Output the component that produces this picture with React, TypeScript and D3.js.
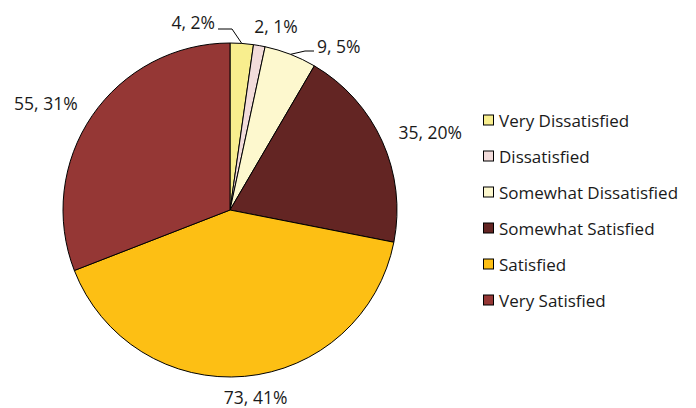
import React from "react";
import * as d3 from "d3";

const categories = [
  "Very Dissatisfied",
  "Dissatisfied",
  "Somewhat Dissatisfied",
  "Somewhat Satisfied",
  "Satisfied",
  "Very Satisfied",
];
const values = [4, 2, 9, 35, 73, 55];
const percentLabels = ["2%", "1%", "5%", "20%", "41%", "31%"];
const colors = ["#F8EE8E", "#F2DCDB", "#FDF8CE", "#632523", "#FDBF14", "#953735"];

const W = 696;
const H = 408;
const cx = 230;
const cy = 210;
const R = 167;
const FONT = "'Open Sans', sans-serif";

export default function App() {
  const pie = d3.pie<number>().sort(null).value((d) => d);
  const arcs = pie(values);
  const arcGen = d3.arc<d3.PieArcDatum<number>>().innerRadius(0).outerRadius(R);
  const mid = (a: d3.PieArcDatum<number>) => (a.startAngle + a.endAngle) / 2;
  const polar = (ang: number, r: number) => [cx + r * Math.sin(ang), cy - r * Math.cos(ang)];

  const labels = arcs.map((a, i) => {
    const text = `${values[i]}, ${percentLabels[i]}`;
    const m = mid(a);
    const edge = polar(m, R);
    if (i === 0) {
      return { text, x: 215, y: 22, anchor: "end", leader: [[218, 29], [232, 29], edge] };
    }
    if (i === 1) {
      return { text, x: 276, y: 26, anchor: "middle", leader: null };
    }
    if (i === 2) {
      return { text, x: 317, y: 46, anchor: "start", leader: [edge, [305, 51], [314, 51]] };
    }
    const [lx] = polar(m, R + 20);
    const anchor = Math.abs(lx - cx) < 30 ? "middle" : lx > cx ? "start" : "end";
    const [px, py] = anchor === "middle" ? polar(m, R + 22) : polar(m, R + 20);
    return {
      text,
      x: px + (anchor === "middle" ? 9 : anchor === "start" ? -2 : 2),
      y: py - 1,
      anchor,
      leader: null,
    };
  });

  return (
    <svg width={W} height={H} style={{ position: "absolute", left: 0, top: 0 }}>
      <rect width={W} height={H} fill="#fff" />
      <g transform={`translate(${cx},${cy})`}>
        {arcs.map((a, i) => (
          <path key={i} d={arcGen(a) || ""} fill={colors[i]} stroke="#000" strokeWidth={1} />
        ))}
      </g>
      {labels.map((l, i) => (
        <g key={i}>
          {l.leader && (
            <polyline
              points={l.leader.map((p) => p.join(",")).join(" ")}
              fill="none"
              stroke="#000"
              strokeWidth={1}
            />
          )}
          <text
            x={l.x}
            y={l.y}
            textAnchor={l.anchor as any}
            dominantBaseline="central"
            fontFamily={FONT}
            fontSize={17.5}
            fill="#1a1a1a"
          >
            {l.text}
          </text>
        </g>
      ))}
      {categories.map((c, i) => (
        <g key={c} transform={`translate(483, ${120 + i * 36})`}>
          <rect x={0.5} y={-5} width={10} height={10} fill={colors[i]} stroke="#000" strokeWidth={1} />
          <text x={16} y={0} dominantBaseline="central" fontFamily={FONT} fontSize={17} fill="#1a1a1a">
            {c}
          </text>
        </g>
      ))}
    </svg>
  );
}
